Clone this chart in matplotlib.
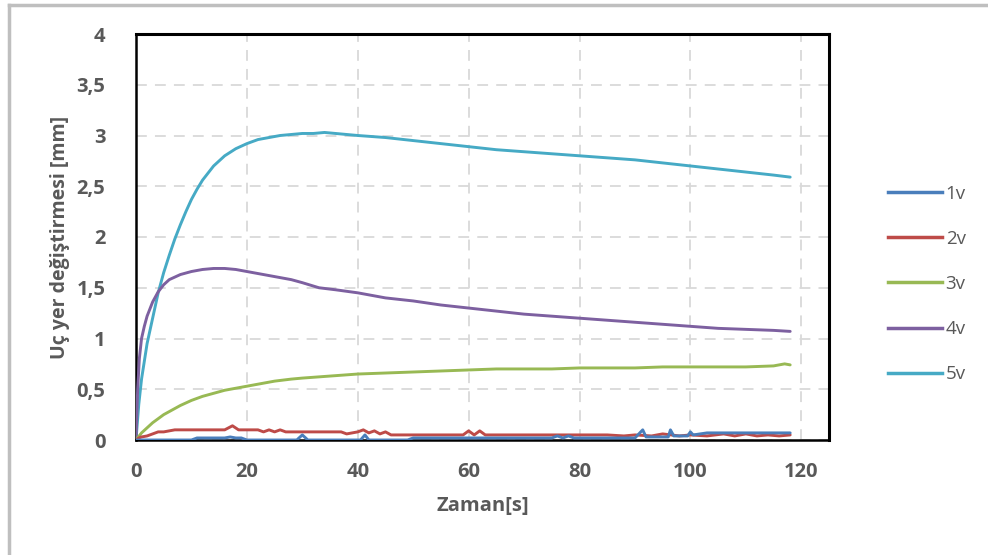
import matplotlib
matplotlib.use("Agg")
import matplotlib.pyplot as plt
from matplotlib.lines import Line2D

# ---------------- data ----------------
t1 = [0, 10, 11, 12, 14, 16, 17, 18, 19, 20, 29, 30, 31, 40.5, 41.3, 42, 49, 50, 55, 60, 65, 70, 75, 76, 77, 78, 79,
      80, 90, 91.4, 92, 96, 96.4, 97, 99.5, 100, 100.5, 103, 104, 108, 112, 116, 118]
v1 = [0, 0, 0.02, 0.02, 0.02, 0.02, 0.03, 0.02, 0.02, 0, 0, 0.05, 0, 0, 0.05, 0, 0, 0.02, 0.02, 0.02, 0.02, 0.02,
      0.02, 0.04, 0.02, 0.04, 0.02, 0.02, 0.02, 0.1, 0.03, 0.03, 0.1, 0.04, 0.04, 0.08, 0.05, 0.07, 0.07, 0.07, 0.07,
      0.07, 0.07]

t2 = [0, 0.5, 1, 2, 3, 4, 5, 6, 7, 8, 12, 16, 17.4, 18.5, 20, 22, 23, 24, 25, 26, 27, 28, 30, 34, 37, 38, 40,
      41, 42, 43, 44, 45, 46, 50, 55, 59, 60, 61, 62, 63, 65, 70, 75, 80, 85, 88, 90, 93, 95, 98, 100, 103, 106,
      108, 110, 112, 114, 116, 118]
v2 = [0, 0.02, 0.03, 0.04, 0.06, 0.08, 0.08, 0.09, 0.1, 0.1, 0.1, 0.1, 0.14, 0.1, 0.1, 0.1, 0.08, 0.1, 0.08,
      0.1, 0.08, 0.08, 0.08, 0.08, 0.08, 0.06, 0.08, 0.1, 0.07, 0.09, 0.06, 0.08, 0.05, 0.05, 0.05, 0.05, 0.09,
      0.05, 0.09, 0.05, 0.05, 0.05, 0.05, 0.05, 0.05, 0.04, 0.05, 0.04, 0.06, 0.04, 0.05, 0.04, 0.06, 0.04,
      0.06, 0.04, 0.05, 0.04, 0.05]

t3 = [0, 1, 2, 3, 4, 5, 6, 8, 10, 12, 14, 16, 18, 20, 22, 25, 28, 30, 35, 40, 45, 50, 55, 60, 65, 70, 75, 80,
      85, 90, 95, 100, 105, 110, 115, 117, 118]
v3 = [0, 0.07, 0.12, 0.17, 0.21, 0.25, 0.28, 0.34, 0.39, 0.43, 0.46, 0.49, 0.51, 0.53, 0.55, 0.58, 0.6, 0.61,
      0.63, 0.65, 0.66, 0.67, 0.68, 0.69, 0.7, 0.7, 0.7, 0.71, 0.71, 0.71, 0.72, 0.72, 0.72, 0.72, 0.73, 0.75,
      0.74]

t4 = [0, 0.3, 0.6, 1, 1.5, 2, 3, 4, 5, 6, 8, 10, 12, 14, 16, 18, 20, 22, 25, 28, 30, 33, 36, 40, 45, 50, 55,
      60, 65, 70, 75, 80, 85, 90, 95, 100, 105, 110, 115, 118]
v4 = [0, 0.5, 0.8, 1.0, 1.12, 1.22, 1.36, 1.46, 1.53, 1.58, 1.63, 1.66, 1.68, 1.69, 1.69, 1.68, 1.66, 1.64,
      1.61, 1.58, 1.55, 1.5, 1.48, 1.45, 1.4, 1.37, 1.33, 1.3, 1.27, 1.24, 1.22, 1.2, 1.18, 1.16, 1.14, 1.12,
      1.1, 1.09, 1.08, 1.07]

t5 = [0, 0.5, 1, 2, 3, 4, 5, 6, 7, 8, 9, 10, 11, 12, 14, 16, 18, 20, 22, 24, 26, 28, 30, 32, 34, 36, 38, 40,
      45, 50, 55, 60, 65, 70, 75, 80, 85, 90, 95, 100, 105, 110, 115, 118]
v5 = [0, 0.35, 0.6, 0.95, 1.2, 1.45, 1.65, 1.82, 1.98, 2.12, 2.25, 2.37, 2.47, 2.56, 2.7, 2.8, 2.87, 2.92,
      2.96, 2.98, 3.0, 3.01, 3.02, 3.02, 3.03, 3.02, 3.01, 3.0, 2.98, 2.95, 2.92, 2.89, 2.86, 2.84, 2.82, 2.8,
      2.78, 2.76, 2.73, 2.7, 2.67, 2.64, 2.61, 2.59]

series_names = ["1v", "2v", "3v", "4v", "5v"]
series_t = [t1, t2, t3, t4, t5]
series_v = [v1, v2, v3, v4, v5]
colors = ["#4A7EBB", "#BE4B48", "#98B954", "#7D60A0", "#46AAC5"]

x_ticks = [0, 20, 40, 60, 80, 100, 120]
y_ticks = [0, 0.5, 1, 1.5, 2, 2.5, 3, 3.5, 4]
y_tick_labels = ["0", "0,5", "1", "1,5", "2", "2,5", "3", "3,5", "4"]

# ---------------- figure ----------------
plt.rcParams['font.family'] = ['Open Sans', 'DejaVu Sans']
fig = plt.figure(figsize=(9.88, 5.55), dpi=100)
ax = fig.add_axes([136 / 988, 1 - 440 / 555, (829 - 136) / 988, (440 - 34) / 555])

# plot in reverse order so 1v sits on top like the source
for name, tt, vv, c in reversed(list(zip(series_names, series_t, series_v, colors))):
    ax.plot(tt, vv, color=c, lw=2.1, solid_capstyle='round', solid_joinstyle='round', zorder=3)

ax.set_xlim(0, 125)
ax.set_ylim(0, 4)
ax.set_xticks(x_ticks)
ax.set_yticks(y_ticks)
ax.set_yticklabels(y_tick_labels)
ax.grid(True, color="#D9D9D9", lw=1.3, ls=(0, (6, 4.5)), zorder=0)
ax.set_axisbelow(True)
ax.tick_params(length=0, labelsize=14.5, labelcolor="#595959")
ax.tick_params(axis='x', pad=16)
ax.tick_params(axis='y', pad=22)
for lab in ax.get_xticklabels() + ax.get_yticklabels():
    lab.set_fontweight('bold')
for s in ax.spines.values():
    s.set_color("black")
    s.set_linewidth(1.8)
ax.spines['top'].set_linewidth(2.2)
ax.spines['right'].set_linewidth(2.2)

ax.set_xlabel("Zaman[s]", fontsize=14.5, fontweight='bold', color="#595959", labelpad=10)
ax.set_ylabel("Uç yer değiştirmesi [mm]", fontsize=14, fontweight='bold', color="#595959", labelpad=5)

# legend
handles = [Line2D([0], [0], color=c, lw=2.5) for c in colors]
leg = fig.legend(handles, series_names, loc='upper left', bbox_to_anchor=(880 / 988, 1 - 177 / 555),
                 frameon=False, fontsize=13.5, labelcolor="#595959", handlelength=2.9,
                 handletextpad=0.2, labelspacing=1.45, borderaxespad=0)

# outer border (left and top gray edges)
fig.add_artist(Line2D([8.5 / 988, 8.5 / 988], [0, 1 - 4.5 / 555], transform=fig.transFigure,
                      color="#BFBFBF", lw=2.5))
fig.add_artist(Line2D([8.5 / 988, 1], [1 - 4.5 / 555, 1 - 4.5 / 555], transform=fig.transFigure,
                      color="#BFBFBF", lw=2.5))

fig.savefig("out.png", dpi=100)
